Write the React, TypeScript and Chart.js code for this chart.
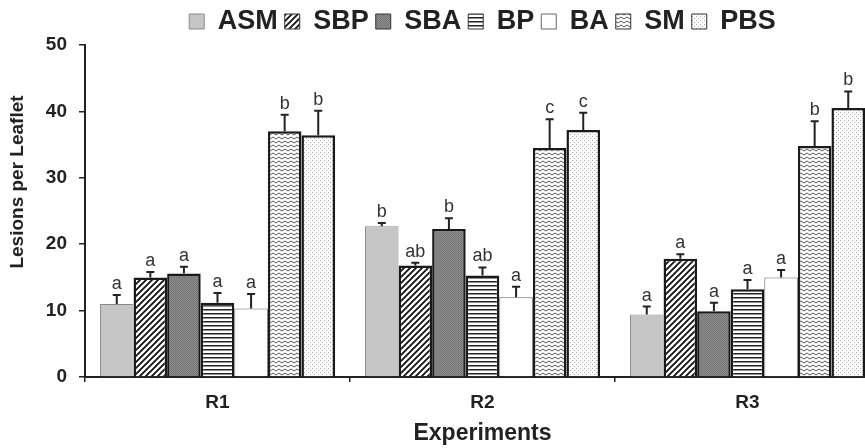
import { useEffect, useRef } from 'react';
import { Chart, registerables } from 'chart.js';

Chart.register(...registerables);

const categories = ['R1', 'R2', 'R3'];
const seriesNames = ['ASM', 'SBP', 'SBA', 'BP', 'BA', 'SM', 'PBS'];

const asmValues = [11.0, 22.7, 9.4];
const sbpValues = [15.0, 16.8, 17.8];
const sbaValues = [15.6, 22.3, 9.9];
const bpValues = [11.2, 15.3, 13.2];
const baValues = [10.3, 12.0, 15.0];
const smValues = [37.0, 34.5, 34.8];
const pbsValues = [36.4, 37.2, 40.5];

const asmErrors = [1.35, 0.5, 1.2];
const sbpErrors = [0.8, 0.4, 0.7];
const sbaErrors = [1.0, 1.6, 1.3];
const bpErrors = [1.45, 1.2, 1.4];
const baErrors = [2.2, 1.6, 1.1];
const smErrors = [2.5, 4.3, 3.7];
const pbsErrors = [3.7, 2.6, 2.5];

const asmLetters = ['a', 'b', 'a'];
const sbpLetters = ['a', 'ab', 'a'];
const sbaLetters = ['a', 'b', 'a'];
const bpLetters = ['a', 'ab', 'a'];
const baLetters = ['a', 'a', 'a'];
const smLetters = ['b', 'c', 'b'];
const pbsLetters = ['b', 'c', 'b'];

const yTicks = [0, 10, 20, 30, 40, 50];
const yTitle = 'Lesions per Leaflet';
const xTitle = 'Experiments';

const allValues = [asmValues, sbpValues, sbaValues, bpValues, baValues, smValues, pbsValues];
const allErrors = [asmErrors, sbpErrors, sbaErrors, bpErrors, baErrors, smErrors, pbsErrors];
const allLetters = [asmLetters, sbpLetters, sbaLetters, bpLetters, baLetters, smLetters, pbsLetters];

const FONT = "'Liberation Sans', Arial, sans-serif";

function makePattern(w: number, h: number, draw: (c: CanvasRenderingContext2D) => void): CanvasPattern {
  const cv = document.createElement('canvas');
  cv.width = w;
  cv.height = h;
  const c = cv.getContext('2d')!;
  draw(c);
  return c.createPattern(cv, 'repeat')!;
}

export default function App() {
  const ref = useRef<HTMLCanvasElement | null>(null);

  useEffect(() => {
    document.body.style.margin = '0';
    const canvas = ref.current;
    if (!canvas) return;

    const diag = makePattern(6, 6, (c) => {
      c.fillStyle = '#fff';
      c.fillRect(0, 0, 6, 6);
      c.strokeStyle = '#111';
      c.lineWidth = 1.8;
      c.beginPath();
      c.moveTo(-1, 7); c.lineTo(7, -1);
      c.moveTo(-1, 1); c.lineTo(1, -1);
      c.moveTo(5, 7); c.lineTo(7, 5);
      c.stroke();
    });
    const darkGrey = makePattern(2, 2, (c) => {
      c.fillStyle = '#8a8a8a';
      c.fillRect(0, 0, 2, 2);
      c.fillStyle = '#787878';
      c.fillRect(0, 0, 1, 1);
      c.fillRect(1, 1, 1, 1);
    });
    const horiz = makePattern(4, 4, (c) => {
      c.fillStyle = '#fff';
      c.fillRect(0, 0, 4, 4);
      c.fillStyle = '#222';
      c.fillRect(0, 1, 4, 1.5);
    });
    const zigzag = makePattern(6, 4, (c) => {
      c.fillStyle = '#fff';
      c.fillRect(0, 0, 6, 4);
      c.strokeStyle = '#555';
      c.lineWidth = 1;
      c.beginPath();
      c.moveTo(0, 3); c.lineTo(3, 1); c.lineTo(6, 3);
      c.stroke();
    });
    const dots = makePattern(4, 4, (c) => {
      c.fillStyle = '#fff';
      c.fillRect(0, 0, 4, 4);
      c.fillStyle = '#a8a8a8';
      c.fillRect(0, 0, 1, 1);
      c.fillRect(2, 2, 1, 1);
    });

    const fills: (string | CanvasPattern)[] = ['#c6c6c6', diag, darkGrey, horiz, '#ffffff', zigzag, dots];
    const borders = ['#8a8a8a', '#1a1a1a', '#1a1a1a', '#1a1a1a', '#666666', '#1a1a1a', '#1a1a1a'];
    const borderWidths = [1, 2.5, 2.5, 2.5, 1, 2.5, 2.5];
    const legendBorders = ['#8a8a8a', '#333', '#333', '#333', '#666', '#333', '#333'];

    const errorPlugin = {
      id: 'errorBars',
      afterDatasetsDraw(chart: any) {
        const ctx = chart.ctx as CanvasRenderingContext2D;
        const y = chart.scales.y;
        chart.data.datasets.forEach((ds: any, di: number) => {
          const meta = chart.getDatasetMeta(di);
          meta.data.forEach((bar: any, i: number) => {
            const v = ds.data[i] as number;
            const e = allErrors[di][i];
            const yTop = y.getPixelForValue(v);
            const yErr = y.getPixelForValue(v + e);
            ctx.save();
            ctx.strokeStyle = '#222';
            ctx.lineWidth = 2;
            ctx.beginPath();
            ctx.moveTo(bar.x, yTop);
            ctx.lineTo(bar.x, yErr);
            ctx.moveTo(bar.x - 4, yErr);
            ctx.lineTo(bar.x + 4, yErr);
            ctx.stroke();
            ctx.fillStyle = '#333';
            ctx.font = `18px ${FONT}`;
            ctx.textAlign = 'center';
            ctx.textBaseline = 'alphabetic';
            ctx.fillText(allLetters[di][i], bar.x, yErr - 6);
            ctx.restore();
          });
        });
      },
    };

    const yTitlePlugin = {
      id: 'yTitle',
      afterDraw(chart: any) {
        const ctx = chart.ctx as CanvasRenderingContext2D;
        ctx.save();
        ctx.translate(18, 182);
        ctx.rotate(-Math.PI / 2);
        ctx.font = `bold 19px ${FONT}`;
        ctx.fillStyle = '#222';
        ctx.textAlign = 'center';
        ctx.textBaseline = 'middle';
        ctx.fillText(yTitle, 0, 0);
        ctx.restore();
      },
    };

    const chart = new Chart(canvas, {
      type: 'bar',
      data: {
        labels: categories,
        datasets: seriesNames.map((name, i) => ({
          label: name,
          data: allValues[i],
          backgroundColor: fills[i] as any,
          borderColor: borders[i],
          borderWidth: borderWidths[i],
          borderSkipped: 'start' as const,
          categoryPercentage: 0.887,
          barPercentage: 1.0,
        })),
      },
      options: {
        responsive: false,
        animation: false,
        devicePixelRatio: 1,
        layout: { padding: { left: 0, right: 20, top: 1, bottom: 0 } },
        plugins: {
          tooltip: { enabled: false },
          legend: {
            display: true,
            position: 'top',
            fullSize: false,
            labels: {
              font: { family: FONT, size: 27, weight: 'bold' },
              color: '#222',
              boxWidth: 15,
              boxHeight: 15,
              padding: 7,
              generateLabels: (ch: any) =>
                ch.data.datasets.map((ds: any, i: number) => ({
                  text: ds.label,
                  fillStyle: ds.backgroundColor,
                  strokeStyle: legendBorders[i],
                  lineWidth: 1,
                  hidden: false,
                  datasetIndex: i,
                  fontColor: '#222',
                })),
            },
          },
        },
        scales: {
          x: {
            afterFit: (s: any) => { s.height = 71; },
            grid: { display: true, drawOnChartArea: false, drawTicks: true, tickLength: 5, color: '#222', lineWidth: 1.5, offset: true },
            border: { display: true, color: '#222', width: 2 },
            ticks: { color: '#222', font: { family: FONT, size: 19, weight: 'bold' }, padding: 9 },
            title: { display: true, text: xTitle, color: '#222', font: { family: FONT, size: 23, weight: 'bold' }, padding: { top: 0, bottom: 1 } },
          },
          y: {
            min: 0,
            max: 50,
            afterFit: (s: any) => { s.width = 85; },
            afterBuildTicks: (s: any) => { s.ticks = yTicks.map((v) => ({ value: v })); },
            grid: { display: true, drawOnChartArea: false, drawTicks: true, tickLength: 6, color: '#222', lineWidth: 1.5 },
            border: { display: true, color: '#222', width: 2 },
            ticks: { color: '#222', font: { family: FONT, size: 19, weight: 'bold' }, padding: 12 },
            title: { display: false },
          },
        },
      },
      plugins: [errorPlugin, yTitlePlugin],
    });

    return () => chart.destroy();
  }, []);

  return (
    <div style={{ width: 865, height: 448, overflow: 'hidden', position: 'relative', background: '#fff' }}>
      <canvas ref={ref} width={900} height={448} style={{ display: 'block', width: 900, height: 448 }} />
    </div>
  );
}
